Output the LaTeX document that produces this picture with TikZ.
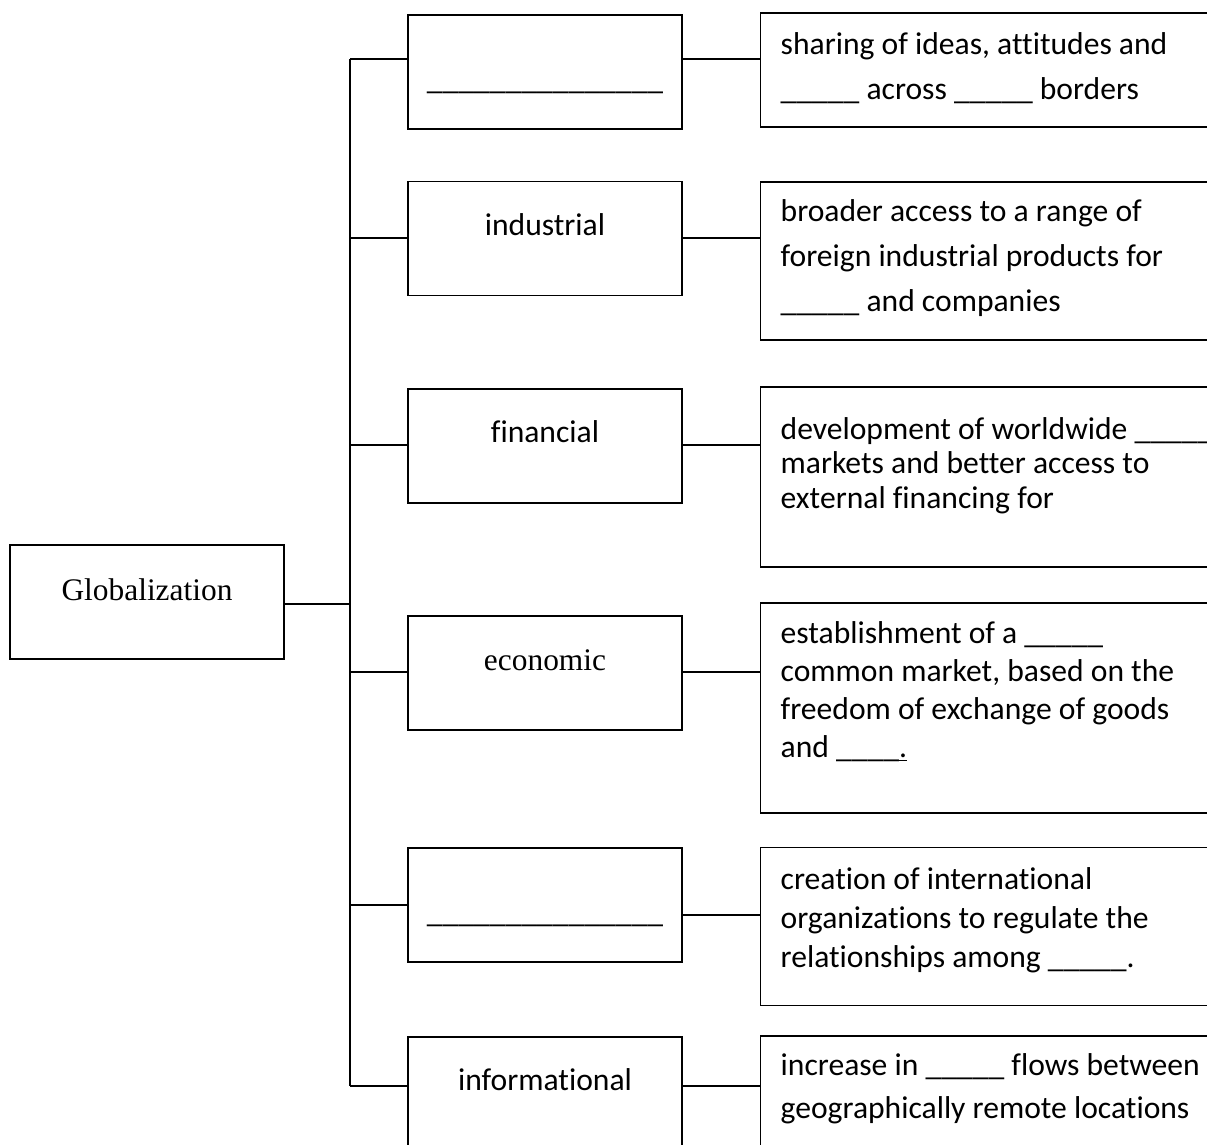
\documentclass[tikz,border=0pt]{standalone}
\usepackage{fontspec}
\setmainfont{Liberation Serif}
\newfontfamily\sansfont[Ligatures=CommonOff]{Carlito}

\begin{document}
\begin{tikzpicture}[x=0.5pt, y=-0.5pt, line width=0.7pt,
    box/.style={draw, inner sep=0pt, minimum width=137pt, minimum height=57pt},
    rbox/.style={draw, inner sep=0pt, minimum width=270pt, anchor=west},
    lbl/.style={anchor=base, inner sep=0pt, font=\sansfont\fontsize{15.8}{19}\selectfont},
    slbl/.style={anchor=base, inner sep=0pt, font=\fontsize{15.7}{19}\selectfont},
    desc/.style={anchor=base west, align=left, inner sep=0pt, font=\sansfont\fontsize{15.8}{#1}\selectfont},
    desc/.default=22.5pt]
    \useasboundingbox (0, 0) rectangle (1207, 1145);
    \clip (0, 0) rectangle (1207, 1145);

    % root
    \node[box] (glob) at (147, 602) {};
    \node[slbl] (globtxt) at (147, 600) {Globalization};

    % middle column
    \node[box] (m1) at (545, 72) {};
    \node[box] (m2) at (545, 238.5) {};
    \node[box] (m3) at (545, 446) {};
    \node[box] (m4) at (545, 673) {};
    \node[box] (m5) at (545, 905) {};
    \node[box] (m6) at (545, 1094) {};

    \node[lbl] (m1txt) at (545, 90) {\_\_\_\_\_\_\_\_\_\_\_\_\_\_\_};
    \node[lbl] (m2txt) at (545, 235) {industrial};
    \node[lbl] (m3txt) at (545, 443) {financial};
    \node[slbl] (m4txt) at (545, 670) {economic};
    \node[lbl] (m5txt) at (545, 922) {\_\_\_\_\_\_\_\_\_\_\_\_\_\_\_};
    \node[lbl] (m6txt) at (545, 1090) {informational};

    % right column
    \node[rbox, minimum height=57pt] (r1) at (760, 70) {};
    \node[rbox, minimum height=79pt] (r2) at (760, 261) {};
    \node[rbox, minimum height=90pt] (r3) at (760, 477) {};
    \node[rbox, minimum height=105pt] (r4) at (760, 708) {};
    \node[rbox, minimum height=79pt] (r5) at (760, 926.5) {};
    \node[rbox, minimum height=80pt] (r6) at (760, 1116) {};

    % texts sit on the baseline of their last line
    \node[desc] (r1txt) at (780, 100) {sharing of ideas, attitudes and\\
        \_\_\_\_\_ across \_\_\_\_\_ borders};
    \node[desc] (r2txt) at (780, 312) {broader access to a range of\\
        foreign industrial products for\\
        \_\_\_\_\_ and companies};
    \node[desc=17.5pt] (r3txt) at (780, 509) {development of worldwide \_\_\_\_\_\\
        markets and better access to\\
        external financing for};
    \node[desc=19pt] (r4txt) at (780, 757) {establishment of a \_\_\_\_\_\\
        common market, based on the\\
        freedom of exchange of goods\\
        and \_\_\_\_\underline{.}};
    \node[desc=19.5pt] (r5txt) at (780, 967) {creation of international\\
        organizations to regulate the\\
        relationships among \_\_\_\_\_.};
    \node[desc=21.5pt] (r6txt) at (780, 1118) {increase in \_\_\_\_\_ flows between\\
        geographically remote locations};

    % trunk and branches
    \coordinate (t1) at (350, 59);
    \coordinate (t2) at (350, 238);
    \coordinate (t3) at (350, 445);
    \coordinate (t4) at (350, 672);
    \coordinate (t5) at (350, 905);
    \coordinate (t6) at (350, 1086);

    \draw (glob.east |- 0, 604) -- (t1 |- 0, 604);
    \draw (t1) -- (t6);
    \draw (t1) -- (t1 -| m1.west);
    \draw (t2) -- (t2 -| m2.west);
    \draw (t3) -- (t3 -| m3.west);
    \draw (t4) -- (t4 -| m4.west);
    \draw (t5) -- (t5 -| m5.west);
    \draw (t6) -- (t6 -| m6.west);

    \draw (m1.east |- t1) -- (r1.west |- t1);
    \draw (m2.east |- t2) -- (r2.west |- t2);
    \draw (m3.east |- t3) -- (r3.west |- t3);
    \draw (m4.east |- t4) -- (r4.west |- t4);
    \draw ([yshift=-5pt]m5.east) -- ([yshift=-5pt]m5.east -| r5.west);
    \draw (m6.east |- t6) -- (r6.west |- t6);
\end{tikzpicture}
\end{document}
